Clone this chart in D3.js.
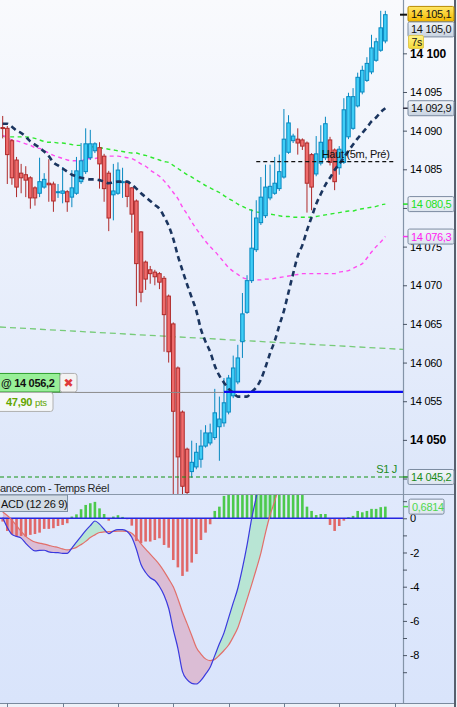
<!DOCTYPE html>
<html><head><meta charset="utf-8">
<script src="https://cdn.jsdelivr.net/npm/d3@7"></script>
<style>
html,body{margin:0;padding:0;background:#eef2f8;}
svg{display:block;font-family:"Liberation Sans",Arial,sans-serif;}
</style></head><body>
<svg id="c" width="457" height="707"></svg>
<script>
// ---------------- DATA ----------------
const candleOpen = [
14090.4,14090.3,14088.7,14086.2,14084.5,14084.3,14083.9,14082.6,14081.9,14082.7,
14083.2,14083.1,14082.0,14081.9,14082.1,14081.4,14081.9,14083.4,14084.7,14086.5,
14087.4,14087.8,14086.7,14084.5,14081.7,14081.9,14083.3,14083.4,14082.6,14080.9,
14076.9,14073.0,14072.0,14071.7,14071.5,14070.9,14068.6,14065.0,14059.3,14053.6,
14048.8,14045.9,14046.5,14047.5,14049.2,14049.6,14050.3,14051.7,14052.2,14053.6,
14055.7,14057.5,14062.7,14066.5,14070.6,14074.6,14078.1,14079.0,14081.3,14081.9,
14082.5,14084.0,14087.2,14088.7,14088.9,14088.8,14088.4,14086.9,14084.4,14085.8,
14086.5,14088.8,14087.5,14085.2,14085.9,14089.2,14090.3,14093.2,14095.0,14096.5,
14097.6,14099.1,14100.4,14101.6];
const candleHigh = [
14091.9,14090.6,14088.9,14086.6,14085.7,14085.4,14084.1,14082.8,14086.5,14084.5,
14086.3,14083.4,14083.1,14085.3,14082.3,14084.9,14086.6,14088.4,14090.3,14090.1,
14088.5,14088.5,14087.0,14084.8,14085.7,14085.9,14085.2,14083.5,14082.7,14081.1,
14077.0,14073.2,14072.5,14072.0,14071.7,14071.2,14068.8,14065.2,14059.5,14053.8,
14049.0,14049.9,14049.6,14051.3,14051.9,14052.1,14056.6,14055.6,14058.0,14058.4,
14060.9,14062.3,14069.0,14071.3,14079.8,14081.0,14084.0,14085.6,14085.6,14086.6,
14086.9,14092.8,14092.0,14089.6,14090.3,14089.0,14088.6,14087.1,14089.3,14090.7,
14091.8,14089.2,14087.7,14088.0,14094.2,14094.9,14095.5,14097.5,14098.4,14099.5,
14102.4,14102.0,14105.5,14105.5];
const candleLow = [
14089.0,14083.1,14083.0,14081.4,14081.9,14081.4,14079.9,14080.3,14081.4,14082.5,
14080.8,14079.5,14081.3,14080.6,14079.5,14080.1,14081.7,14083.1,14084.4,14086.2,
14087.1,14082.5,14080.8,14077.0,14078.4,14081.7,14081.3,14080.1,14076.8,14067.3,
14067.8,14069.4,14070.2,14070.0,14069.5,14061.4,14060.0,14042.0,14042.0,14042.0,
14042.0,14045.1,14046.2,14046.4,14049.0,14049.3,14050.0,14047.3,14051.7,14053.3,
14055.4,14057.2,14060.6,14066.3,14070.3,14074.3,14077.8,14078.7,14081.0,14081.7,
14082.2,14083.8,14087.0,14088.4,14086.9,14087.5,14079.4,14079.7,14084.1,14085.5,
14086.2,14085.5,14082.3,14084.3,14085.7,14088.9,14090.1,14093.0,14094.7,14096.3,
14097.3,14098.9,14100.2,14101.3];
const candleClose = [
14090.3,14086.9,14083.9,14082.7,14083.9,14083.6,14081.3,14081.3,14083.4,14083.7,
14083.0,14080.9,14082.1,14082.2,14080.8,14082.6,14084.8,14086.1,14088.3,14088.3,
14088.3,14085.7,14082.5,14078.7,14082.2,14084.9,14083.4,14081.5,14079.2,14072.8,
14069.1,14070.8,14071.5,14071.1,14070.4,14066.2,14061.4,14053.7,14047.8,14044.0,
14043.2,14047.1,14048.4,14049.2,14050.9,14050.9,14053.5,14052.7,14054.8,14058.0,
14059.3,14060.6,14066.3,14070.6,14074.8,14078.7,14081.4,14082.7,14082.8,14083.2,
14084.7,14088.9,14091.0,14089.3,14088.4,14088.0,14083.2,14082.7,14087.0,14088.5,
14090.9,14085.9,14083.4,14087.6,14092.7,14094.4,14094.4,14096.9,14097.8,14098.7,
14100.7,14101.5,14103.3,14105.0];
const avgNavy = [
14090.9,14090.9,14090.5,14090.0,14089.7,14089.2,14088.6,14088.2,14087.8,14087.3,
14086.7,14085.9,14085.5,14085.1,14084.7,14084.3,14084.1,14083.9,14083.8,14083.7,
14083.7,14083.6,14083.4,14083.2,14083.3,14083.4,14083.4,14083.4,14083.0,14082.5,
14081.9,14081.4,14080.9,14080.4,14079.9,14078.9,14077.7,14076.0,14073.8,14071.9,
14070.1,14068.4,14066.7,14064.3,14062.7,14061.4,14059.6,14058.3,14057.4,14056.6,
14056.1,14055.6,14055.6,14055.6,14056.2,14056.8,14057.8,14059.4,14061.2,14062.8,
14064.8,14066.7,14069.1,14071.5,14073.8,14075.2,14077.1,14078.8,14080.5,14081.8,
14083.0,14083.9,14084.9,14085.7,14086.5,14087.4,14088.2,14089.0,14089.7,14090.4,
14091.2,14091.7,14092.4,14092.9];
const avgGreen = [
14089.3,14089.2,14089.2,14089.2,14089.2,14089.2,14089.1,14089.0,14088.8,14088.6,
14088.5,14088.5,14088.4,14088.4,14088.3,14088.2,14088.1,14088.1,14088.0,14087.9,
14087.9,14087.8,14087.7,14087.6,14087.5,14087.4,14087.3,14087.2,14087.1,14087.1,
14086.9,14086.8,14086.6,14086.4,14086.2,14086.0,14085.9,14085.5,14085.1,14084.7,
14084.3,14084.0,14083.6,14083.3,14082.9,14082.6,14082.3,14082.0,14081.6,14081.2,
14080.9,14080.5,14080.2,14079.9,14079.7,14079.5,14079.4,14079.3,14079.2,14079.1,
14079.0,14078.9,14078.9,14078.8,14078.8,14078.8,14078.8,14078.8,14078.9,14079.0,
14079.1,14079.2,14079.3,14079.4,14079.5,14079.6,14079.6,14079.8,14079.9,14080.0,
14080.1,14080.2,14080.4,14080.5];
const avgMagenta = [
14089.4,14089.1,14088.8,14088.7,14088.5,14088.3,14088.1,14087.8,14087.7,14087.4,
14087.1,14086.8,14086.6,14086.4,14086.2,14086.1,14086.1,14086.1,14086.3,14086.4,
14086.4,14086.5,14086.6,14086.7,14086.7,14086.7,14086.6,14086.5,14086.4,14086.1,
14085.7,14085.4,14084.9,14084.5,14084.1,14083.5,14082.8,14082.0,14081.2,14080.1,
14079.2,14078.2,14077.3,14076.5,14075.7,14075.0,14074.4,14073.7,14073.0,14072.3,
14071.8,14071.4,14071.0,14070.8,14070.7,14070.7,14070.7,14070.8,14070.8,14070.9,
14071.0,14071.1,14071.2,14071.3,14071.4,14071.5,14071.5,14071.5,14071.5,14071.5,
14071.5,14071.5,14071.5,14071.7,14071.8,14071.9,14072.2,14072.5,14072.8,14073.5,
14074.3,14075.0,14075.6,14076.3];
const dailyLine = [14064.6, 14061.7];          // left edge value, right edge value
const highPrevLevel = 14086.0;                 // "Haut (5m, Pré)"
const highPrevSpan = [55, 85];                 // candle indices
const orderLevel = 14056.2;
const orderStartIndex = 48;
const orderGain = 47.90;
const s1Level = 14045.2;
const askPrice = 14105.1;
const countdownLabel = "7s";
const priceTicks = [14045,14050,14055,14060,14065,14070,14075,14080,14085,14090,14095,14100];
const boldTicks = [14050,14100];
const macdLine = [
0.05,-0.54,-0.94,-1.06,-1.16,-1.47,-1.73,-1.91,-1.88,-1.87,
-1.96,-2.00,-2.01,-2.05,-2.05,-1.74,-1.40,-1.06,-0.72,-0.43,
-0.16,-0.34,-0.64,-0.90,-0.74,-0.66,-0.66,-0.77,-1.11,-1.81,
-2.70,-3.17,-3.48,-3.64,-3.99,-4.50,-5.26,-6.51,-7.60,-8.97,
-9.44,-9.65,-9.69,-9.48,-9.11,-8.71,-8.03,-7.34,-6.70,-5.82,
-4.95,-4.09,-2.92,-1.57,-0.02,1.24,2.50,3.60,4.40,5.00,
5.50,6.00,6.40,6.60,6.50,6.30,5.80,5.50,5.20,5.20,
5.15,4.50,4.10,4.30,4.55,4.70,4.80,5.15,5.15,5.30,
5.50,5.60,5.80,5.90];
const signalLine = [
0.37,0.16,-0.11,-0.43,-0.76,-1.06,-1.25,-1.39,-1.45,-1.51,
-1.58,-1.65,-1.71,-1.79,-1.85,-1.79,-1.70,-1.54,-1.35,-1.13,
-0.97,-0.83,-0.80,-0.78,-0.77,-0.75,-0.75,-0.77,-0.88,-1.15,
-1.49,-1.80,-2.09,-2.39,-2.71,-3.10,-3.54,-4.01,-4.70,-5.48,
-6.16,-6.85,-7.55,-7.94,-8.22,-8.32,-8.25,-8.01,-7.73,-7.41,
-6.94,-6.40,-5.59,-4.74,-3.88,-2.98,-2.04,-0.85,0.19,1.00,
1.90,2.70,3.40,4.00,4.50,4.80,5.10,5.07,5.00,4.95,
4.90,4.89,4.84,4.75,4.69,4.64,4.66,4.72,4.80,4.87,
4.95,5.05,5.15,5.22];
const macdHist = [
-0.19,-0.74,-0.94,-1.07,-1.03,-1.07,-0.97,-0.92,-0.84,-0.62,
-0.62,-0.58,-0.45,-0.39,-0.29,0.10,0.23,0.53,0.78,0.88,
0.96,0.58,0.25,-0.14,0.10,0.18,0.08,-0.06,-0.43,-1.33,
-1.46,-1.36,-1.36,-1.27,-1.17,-1.56,-1.72,-2.44,-2.87,-3.37,
-3.12,-2.59,-2.09,-1.27,-0.84,-0.35,0.43,0.68,1.31,1.60,
2.00,2.30,2.70,3.20,3.90,4.20,4.50,4.45,4.20,4.00,
3.60,3.30,3.00,2.60,2.00,1.50,0.68,0.43,0.19,0.25,
0.25,-0.39,-0.74,-0.45,-0.14,0.06,0.14,0.43,0.35,0.43,
0.55,0.55,0.65,0.6814];
const macdTicks = [0,-2,-4,-6,-8];
const macdMinorTicks = [1,-1,-3,-5,-7,-9];
const timeTicks = [1,13,25,37,49,61,73,85];
const macdTitle = "ACD (12 26 9)";
const sourceLabel = "ance.com - Temps Réel";

// ---------------- LAYOUT ----------------
const plotR = 403, mainB = 494, macdB = 703, edgeX = 455;
const svg = d3.select('#c');
const defs = svg.append('defs');
function grad(id, stops){
  const g = defs.append('linearGradient').attr('id',id).attr('x1',0).attr('y1',0).attr('x2',0).attr('y2',1);
  stops.forEach(([o,c])=>g.append('stop').attr('offset',o).attr('stop-color',c));
}
grad('bgMain',[['0%','#f9fafd'],['100%','#dce6fa']]);
grad('bgMacd',[['0%','#e0e9fc'],['100%','#d9e4fb']]);
grad('gGold',[['0%','#ffe766'],['100%','#f3b900']]);
grad('gGrey',[['0%','#f0f4f9'],['100%','#c8d3e1']]);
grad('gLight',[['0%','#f2f5fa'],['100%','#dde5ef']]);
grad('gYellow',[['0%','#fff48a'],['100%','#f4d93a']]);
defs.append('clipPath').attr('id','clipMain').append('rect').attr('x',0).attr('y',0).attr('width',plotR).attr('height',mainB);
defs.append('clipPath').attr('id','clipMacd').append('rect').attr('x',0).attr('y',mainB).attr('width',plotR).attr('height',macdB-mainB);

svg.append('rect').attr('x',0).attr('y',0).attr('width',edgeX).attr('height',mainB).attr('fill','url(#bgMain)');
svg.append('rect').attr('x',0).attr('y',mainB).attr('width',edgeX).attr('height',macdB-mainB).attr('fill','url(#bgMacd)');
svg.append('rect').attr('x',0).attr('y',macdB).attr('width',457).attr('height',707-macdB).attr('fill','#eef2f8');

// scales
const x = d3.scaleLinear().domain([-0.586, 86.83]).range([0, plotR]);
const y = d3.scaleLinear().domain([14043.0, 14106.9]).range([mainB, 0]);
const ym = d3.scaleLinear().domain([-10.8, 1.42]).range([macdB, mainB]);

const loc = d3.formatLocale({decimal:",", thousands:" ", grouping:[3], currency:["",""], minus:"-"});
const fInt = loc.format(",.0f"), f1 = loc.format(",.1f"), f2 = loc.format(".2f"), fm = loc.format("d");

// ---------------- MAIN PANEL ----------------
const main = svg.append('g').attr('clip-path','url(#clipMain)');
main.append('line')
  .attr('x1',x.range()[0]).attr('x2',x.range()[1])
  .attr('y1',y(dailyLine[0])).attr('y2',y(dailyLine[1]))
  .attr('stroke','#6cc86c').attr('stroke-width',1.3).attr('stroke-dasharray','6,4').attr('opacity',0.9);

const lineP = d3.line().x((d,i)=>x(i)).y(d=>y(d)).curve(d3.curveMonotoneX);
main.append('path').attr('d',lineP(avgGreen)).attr('fill','none')
  .attr('stroke','#2fe82f').attr('stroke-width',1.4).attr('stroke-dasharray','4,3.5');
main.append('path').attr('d',lineP(avgMagenta)).attr('fill','none')
  .attr('stroke','#ff4cf0').attr('stroke-width',1.4).attr('stroke-dasharray','4,3.5');

const candles = candleOpen.map((o,i)=>({i,o,h:candleHigh[i],l:candleLow[i],c:candleClose[i]}));
const up = d=>d.c>=d.o;
const gC = main.append('g');
gC.selectAll('line').data(candles).join('line')
  .attr('x1',d=>x(d.i)).attr('x2',d=>x(d.i))
  .attr('y1',d=>y(d.h)).attr('y2',d=>y(d.l))
  .attr('stroke',d=>up(d)?'#0788c0':'#ae2a2a').attr('stroke-width',1);
gC.selectAll('rect').data(candles).join('rect')
  .attr('x',d=>x(d.i)-1.75).attr('width',3.5)
  .attr('y',d=>y(Math.max(d.o,d.c)))
  .attr('height',d=>Math.max(1,Math.abs(y(d.o)-y(d.c))))
  .attr('fill',d=>up(d)?'#3fcdf6':'#ef6c6c')
  .attr('stroke',d=>up(d)?'#0788c0':'#ae2a2a').attr('stroke-width',1);

main.append('path').attr('d',lineP(avgNavy)).attr('fill','none')
  .attr('stroke','#1b355f').attr('stroke-width',2.6).attr('stroke-dasharray','5.5,4');

// previous high line
main.append('line').attr('x1',x(highPrevSpan[0])).attr('x2',x(highPrevSpan[1]))
  .attr('y1',y(highPrevLevel)).attr('y2',y(highPrevLevel))
  .attr('stroke','#111').attr('stroke-width',1.2).attr('stroke-dasharray','4,3');
main.append('text').attr('x',x(highPrevSpan[1])-5).attr('y',y(highPrevLevel)-3.5)
  .attr('text-anchor','end').attr('font-size',11).attr('letter-spacing',-0.3).attr('fill','#111')
  .text('Haut (5m, Pré)');

// S1 line
main.append('line').attr('x1',0).attr('x2',plotR).attr('y1',y(s1Level)).attr('y2',y(s1Level))
  .attr('stroke','#159315').attr('stroke-width',1.2).attr('stroke-dasharray','4,3');
main.append('text').attr('x',plotR-6).attr('y',y(s1Level)-3.5).attr('text-anchor','end')
  .attr('font-size',11).attr('letter-spacing',-0.3).attr('fill','#1e8c1e').text('S1 J');

// order line
main.append('line').attr('x1',0).attr('x2',x(orderStartIndex)).attr('y1',y(orderLevel)+0.5).attr('y2',y(orderLevel)+0.5)
  .attr('stroke','#8c8c8c').attr('stroke-width',1);
main.append('line').attr('x1',x(orderStartIndex)).attr('x2',plotR).attr('y1',y(orderLevel)).attr('y2',y(orderLevel))
  .attr('stroke','#0a0af0').attr('stroke-width',2.2);

// source text
main.append('text').attr('x',0).attr('y',mainB-2.5).attr('font-size',11).attr('letter-spacing',-0.3)
  .attr('fill','#262626').text(sourceLabel);

// order boxes
const oy = y(orderLevel);
svg.append('rect').attr('x',-3).attr('y',oy-18.5).attr('width',63).attr('height',18.5)
  .attr('fill','#98ef98').attr('stroke','#2f9e2f');
svg.append('text').attr('x',1).attr('y',oy-5).attr('font-size',11).attr('font-weight','bold')
  .attr('letter-spacing',-0.3).attr('fill','#111').text('@ ' + f1(orderLevel));
svg.append('rect').attr('x',60).attr('y',oy-18.5).attr('width',17).attr('height',18.5).attr('rx',2.5)
  .attr('fill','#f3f3f3').attr('stroke','#b0b0b0');
svg.append('text').attr('x',68.5).attr('y',oy-5).attr('text-anchor','middle').attr('font-size',12)
  .attr('font-family','DejaVu Sans').attr('fill','#e03a3a').text('✖');
svg.append('rect').attr('x',-3).attr('y',oy+0.5).attr('width',56).attr('height',19).attr('rx',2.5)
  .attr('fill','#f5f7f9').attr('stroke','#b0b0b0');
const pt = svg.append('text').attr('x',6).attr('y',oy+14).attr('fill','#63a600').attr('letter-spacing',-0.3);
pt.append('tspan').attr('font-size',11).attr('font-weight','bold').text(f2(orderGain));
pt.append('tspan').attr('font-size',9.5).attr('dx',3).text('pts');

// ---------------- MACD PANEL ----------------
const mPts = macdLine.map((m,i)=>({i, m, s: signalLine[i]}));
const areaB = d3.area().x(d=>x(d.i)).y0(d=>ym(d.m)).y1(d=>ym(d.s)).curve(d3.curveMonotoneX);
const belowS = d3.area().x(d=>x(d.i)).y0(900).y1(d=>ym(d.s)).curve(d3.curveMonotoneX);
const aboveS = d3.area().x(d=>x(d.i)).y0(300).y1(d=>ym(d.s)).curve(d3.curveMonotoneX);
defs.append('clipPath').attr('id','cpBelow').append('path').attr('d',belowS(mPts));
defs.append('clipPath').attr('id','cpAbove').append('path').attr('d',aboveS(mPts));

const mg = svg.append('g').attr('clip-path','url(#clipMacd)');
mg.append('path').attr('d',areaB(mPts)).attr('fill','#dbbdd5').attr('clip-path','url(#cpBelow)');
mg.append('path').attr('d',areaB(mPts)).attr('fill','#b8e5d4').attr('clip-path','url(#cpAbove)');
mg.selectAll('rect.h').data(macdHist).join('rect').attr('class','h')
  .attr('x',(d,i)=>x(i)-1.3).attr('width',2.6)
  .attr('y',d=>Math.min(ym(d),ym(0))).attr('height',d=>Math.abs(ym(d)-ym(0)))
  .attr('fill',d=>d>=0?'#4cc94c':'#e06868');
mg.append('line').attr('x1',0).attr('x2',plotR).attr('y1',ym(0)).attr('y2',ym(0))
  .attr('stroke','#2626e0').attr('stroke-width',1.4);
const lineM = d3.line().x((d,i)=>x(i)).y(d=>ym(d)).curve(d3.curveMonotoneX);
mg.append('path').attr('d',lineM(signalLine)).attr('fill','none').attr('stroke','#e26f6a').attr('stroke-width',1.2);
mg.append('path').attr('d',lineM(macdLine)).attr('fill','none').attr('stroke','#3a3ade').attr('stroke-width',1.2);

svg.append('rect').attr('x',-3).attr('y',mainB+1).attr('width',70.5).attr('height',16.5)
  .attr('fill','#d2dbe5').attr('stroke','#7f90a4');
svg.append('text').attr('x',1).attr('y',mainB+13.5).attr('font-size',11).attr('letter-spacing',-0.3)
  .attr('fill','#111').text(macdTitle);

// ---------------- FRAME & AXES ----------------
svg.append('line').attr('x1',0).attr('x2',edgeX).attr('y1',mainB+0.5).attr('y2',mainB+0.5).attr('stroke','#8a98aa');
svg.append('line').attr('x1',0).attr('x2',edgeX).attr('y1',macdB+0.5).attr('y2',macdB+0.5).attr('stroke','#7a8a9e');
svg.append('line').attr('x1',plotR+0.5).attr('x2',plotR+0.5).attr('y1',0).attr('y2',macdB).attr('stroke','#8494a8').attr('stroke-width',1.2);
svg.append('line').attr('x1',edgeX).attr('x2',edgeX).attr('y1',0).attr('y2',707).attr('stroke','#56606e').attr('stroke-width',2);

// time ticks
svg.append('g').selectAll('line').data(timeTicks).join('line')
  .attr('x1',d=>Math.round(x(d))+0.5).attr('x2',d=>Math.round(x(d))+0.5).attr('y1',macdB).attr('y2',707)
  .attr('stroke','#6f7f93');

// price tags computed first so that fully covered tick labels can be dropped
const lastClose = candleClose[candleClose.length-1];
const lastNavy = avgNavy[avgNavy.length-1], lastGreen = avgGreen[avgGreen.length-1], lastMag = avgMagenta[avgMagenta.length-1];
const tagYs = [y(lastNavy), y(lastGreen), y(lastMag), y(s1Level)];

function styleAxis(g){
  g.select('.domain').remove();
  g.attr('font-family',null).attr('font-size',null);
  g.selectAll('line').attr('stroke','#4a5566');
  g.selectAll('text').attr('fill','#000').attr('font-size',11).attr('letter-spacing',-0.3);
}
const axP = svg.append('g').attr('transform',`translate(${plotR},0)`)
  .call(d3.axisRight(y).tickValues(priceTicks).tickSize(4).tickPadding(3).tickFormat(fInt))
  .call(styleAxis);
axP.selectAll('.tick').filter(d=>boldTicks.includes(d)).select('text')
  .attr('font-weight','bold').attr('font-size',12).attr('letter-spacing',-0.1);
axP.selectAll('.tick').filter(d=>tagYs.some(t=>Math.abs(t-y(d))<7)).select('text').remove();

svg.append('g').attr('transform',`translate(${plotR},0)`)
  .call(d3.axisRight(ym).tickValues(macdTicks).tickSize(4).tickPadding(3).tickFormat(fm))
  .call(styleAxis);
svg.append('g').attr('transform',`translate(${plotR},0)`)
  .call(d3.axisRight(ym).tickValues(macdMinorTicks).tickSize(4).tickFormat(''))
  .call(styleAxis);

// price tags
function tag(cy, label, o){
  const h = o.h || 15;
  const g = svg.append('g');
  if (o.tick) g.append('line').attr('x1',plotR).attr('x2',plotR+5).attr('y1',o.ty).attr('y2',o.ty)
    .attr('stroke',o.tick).attr('stroke-width',1.5);
  g.append('rect').attr('x',o.x||408).attr('y',cy-h/2).attr('width',o.w||46).attr('height',h).attr('rx',1.5)
    .attr('fill',o.fill).attr('stroke',o.stroke||'#7b8ba0');
  g.append('text').attr('x',(o.x||408)+3).attr('y',cy+4).attr('font-size',o.fs||11).attr('letter-spacing',-0.3)
    .attr('fill',o.color||'#111').text(label);
}
const askY = Math.max(y(askPrice), 8);
const closeY = Math.max(y(lastClose), askY + 15.5);
svg.append('line').attr('x1',plotR-3).attr('x2',plotR+4).attr('y1',y(lastClose)).attr('y2',y(lastClose))
  .attr('stroke','#111').attr('stroke-width',2);
tag(askY, f1(askPrice), {fill:'url(#gGold)', stroke:'#b88a00'});
tag(closeY, f1(lastClose), {fill:'url(#gGrey)'});
tag(closeY + 12.5, countdownLabel, {fill:'url(#gYellow)', stroke:'#e0c850', w:15, x:408.5, h:13, fs:10.5});
tag(y(lastNavy), f1(lastNavy), {fill:'url(#gGrey)', tick:'#334', ty:y(lastNavy)});
tag(y(lastGreen), f1(lastGreen), {fill:'url(#gLight)', color:'#22e022', tick:'#22dd22', ty:y(lastGreen)});
tag(y(lastMag), f1(lastMag), {fill:'url(#gLight)', color:'#ff20f0', tick:'#ff30f0', ty:y(lastMag)});
tag(y(s1Level), f1(s1Level), {fill:'url(#gLight)', color:'#1a8c1a', tick:'#1a8c1a', ty:y(s1Level)});
const lastHist = macdHist[macdHist.length-1];
tag(ym(lastHist), loc.format(".4f")(lastHist), {fill:'url(#gLight)', color:'#4fd84f', tick:'#4fd84f', ty:ym(lastHist), w:35, x:409});
</script>
</body></html>
